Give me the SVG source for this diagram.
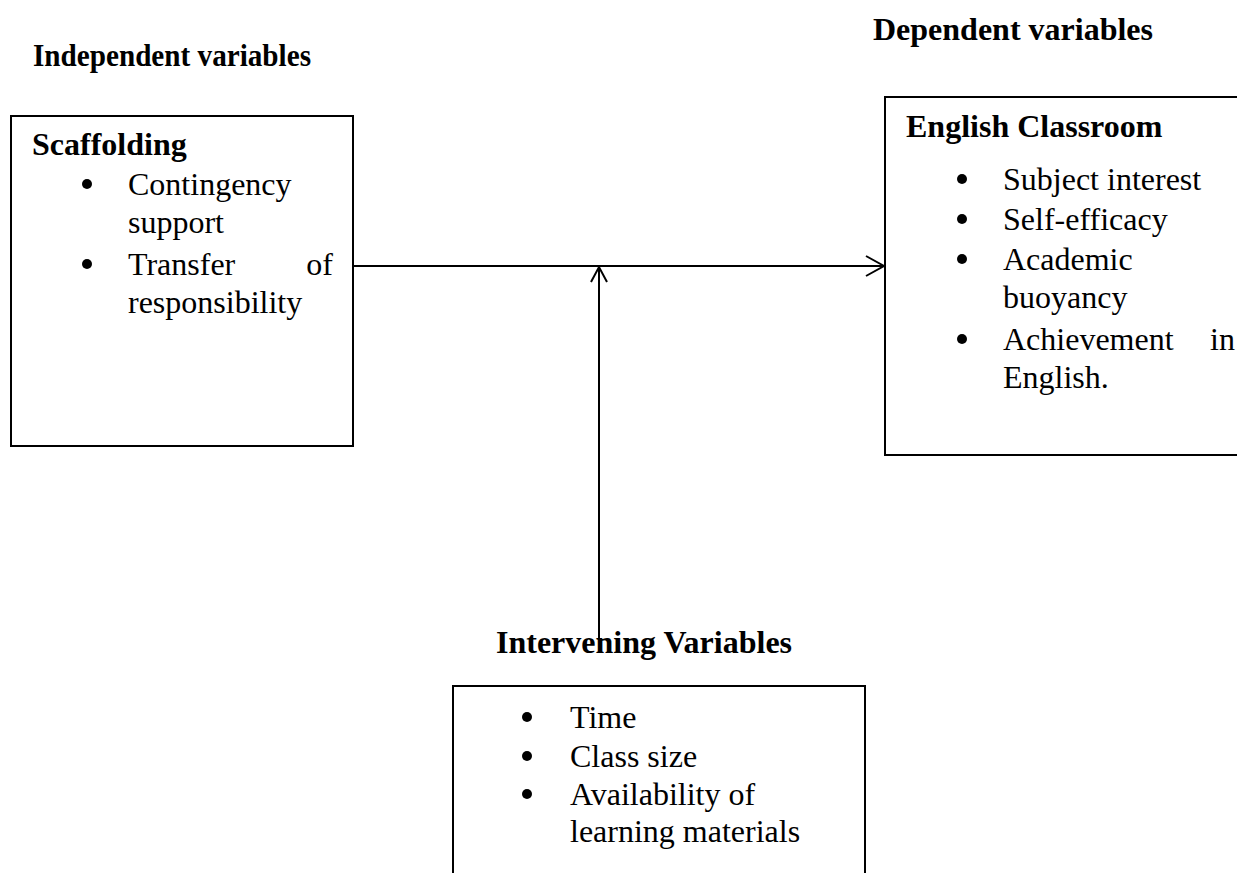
<svg xmlns="http://www.w3.org/2000/svg" width="1237" height="873" viewBox="0 0 1237 873">
<style>
.box{fill:#fff;stroke:#000;stroke-width:2}
.h{font-family:"Liberation Serif","Times New Roman",serif;font-weight:bold;font-size:32px;fill:#000}
.t{font-family:"Liberation Serif","Times New Roman",serif;font-size:32px;fill:#000}
.b{fill:#000}
.c{stroke:#000;stroke-width:2;fill:none}
</style>
<rect width="1237" height="873" fill="#fff"/>
<text class="h" x="33" y="66" textLength="278" lengthAdjust="spacingAndGlyphs">Independent variables</text>
<text class="h" x="873" y="40">Dependent variables</text>
<g id="scaffolding">
<rect class="box" x="11" y="116" width="342" height="330"/>
<text class="h" x="32" y="155">Scaffolding</text>
<circle class="b" cx="87" cy="184" r="5"/>
<text class="t" x="128" y="195">Contingency</text>
<text class="t" x="128" y="233">support</text>
<circle class="b" cx="87" cy="264" r="5"/>
<text class="t" x="128" y="275">Transfer</text>
<text class="t" x="333" y="275" text-anchor="end">of</text>
<text class="t" x="128" y="313">responsibility</text>
</g>
<g id="english-classroom">
<rect class="box" x="885" y="97" width="360" height="358"/>
<text class="h" x="906" y="137">English Classroom</text>
<circle class="b" cx="962" cy="179" r="5"/>
<text class="t" x="1003" y="190">Subject interest</text>
<circle class="b" cx="962" cy="219" r="5"/>
<text class="t" x="1003" y="230">Self-efficacy</text>
<circle class="b" cx="962" cy="259" r="5"/>
<text class="t" x="1003" y="270">Academic</text>
<text class="t" x="1003" y="308">buoyancy</text>
<circle class="b" cx="962" cy="339" r="5"/>
<text class="t" x="1003" y="350">Achievement</text>
<text class="t" x="1235" y="350" text-anchor="end">in</text>
<text class="t" x="1003" y="388">English.</text>
</g>
<g id="intervening">
<text class="h" x="496" y="653">Intervening Variables</text>
<rect class="box" x="453" y="686" width="412" height="200"/>
<circle class="b" cx="527" cy="717" r="5"/>
<text class="t" x="570" y="728">Time</text>
<circle class="b" cx="527" cy="756" r="5"/>
<text class="t" x="570" y="767">Class size</text>
<circle class="b" cx="527" cy="794" r="5"/>
<text class="t" x="570" y="805">Availability of</text>
<text class="t" x="570" y="842">learning materials</text>
</g>
<g id="connectors">
<line class="c" x1="353" y1="266" x2="884" y2="266"/>
<polyline class="c" points="866,256 884,266 866,276"/>
<line class="c" x1="599" y1="639" x2="599" y2="267"/>
<polyline class="c" points="591,282 599,267 607,282"/>
</g>
</svg>
